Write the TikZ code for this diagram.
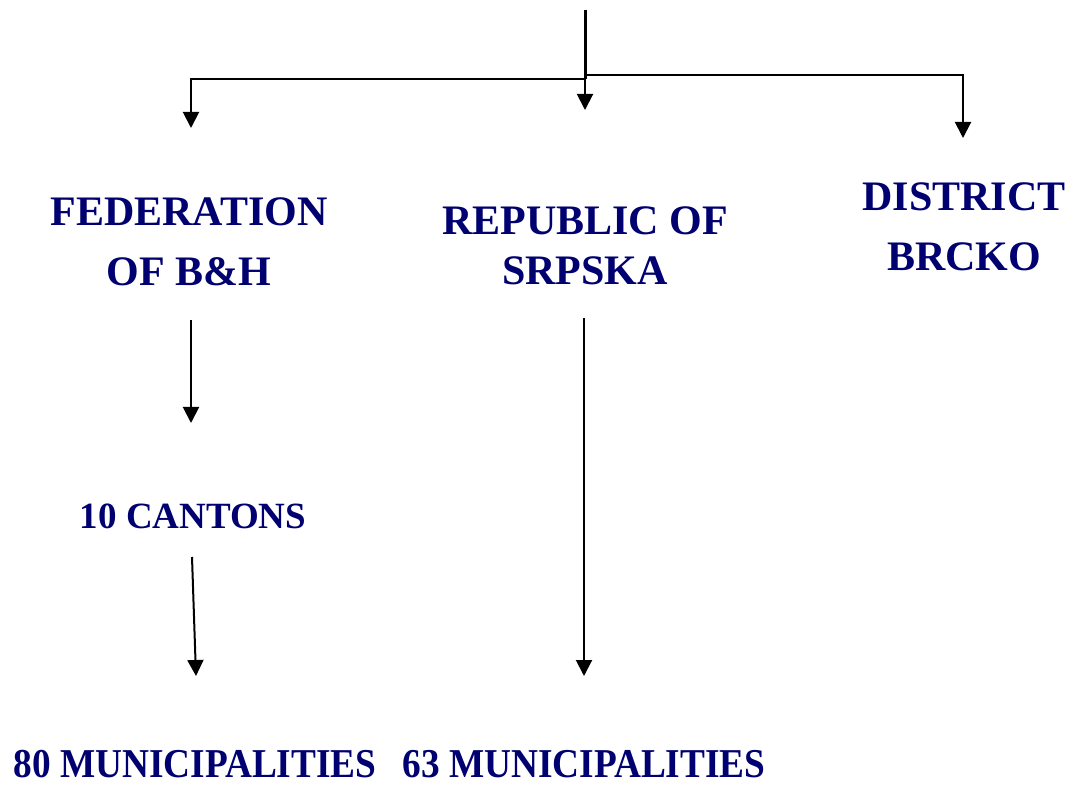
\documentclass[tikz,border=0pt]{standalone}
\usepackage{fontspec}
\setmainfont{Liberation Serif}
\usepackage{xcolor}
\usepackage{tikz}
\usetikzlibrary{positioning,arrows.meta}

\definecolor{unitblue}{RGB}{0,0,112}

\begin{document}
\begin{tikzpicture}[x=0.5pt, y=-0.5pt, line width=1pt,
    unit/.style={align=center, text=unitblue, font=\bfseries\fontsize{21}{30}\selectfont, inner sep=0pt},
    count/.style={text=unitblue, font=\bfseries\fontsize{18.5}{22}\selectfont, inner sep=0pt, anchor=base},
    muni/.style={text=unitblue, font=\bfseries\fontsize{20.5}{24}\selectfont, inner sep=0pt, anchor=base, xscale=0.91, transform shape},
    link/.style={-{Triangle[width=8pt,length=8pt]}}]
  \useasboundingbox (0,0) rectangle (1070,785);
  % entities of the state
  \node[unit] (fed) at (189,242) {FEDERATION\\OF B\&H};
  \node[unit, font=\bfseries\fontsize{21}{25}\selectfont] (rep) at (585,246) {REPUBLIC OF\\SRPSKA};
  \node[unit] (brcko) at (964,227) {DISTRICT\\BRCKO};
  \node[count] (cant) at (193,529) {10 CANTONS};
  \node[muni] (fedmun) at (195,777) {80 MUNICIPALITIES};
  \node[muni] (repmun) at (584,777) {63 MUNICIPALITIES};
  % branching from the top
  \coordinate (top) at (585,10);
  \coordinate (hub) at (585,79);
  \coordinate (hubr) at (587,75);
  \coordinate (fedin) at (191,128);
  \coordinate (repin) at (585,110);
  \coordinate (brckoin) at (963,138);
  \draw[line width=1.5pt] (top) -- (hub);
  \draw[link] (hub) -| (fedin);
  \draw[link] (hub) -- (repin);
  \draw[link] (hubr) -| (brckoin);
  % lower levels
  \coordinate (fedout) at (191,320);
  \coordinate (cantin) at (191,423);
  \coordinate (cantout) at (192,557);
  \coordinate (fedmunin) at (196,676);
  \coordinate (repout) at (584,318);
  \coordinate (repmunin) at (584,676);
  \draw[link] (fedout) -- (cantin);
  \draw[link] (cantout) -- (fedmunin);
  \draw[link] (repout) -- (repmunin);
\end{tikzpicture}
\end{document}
